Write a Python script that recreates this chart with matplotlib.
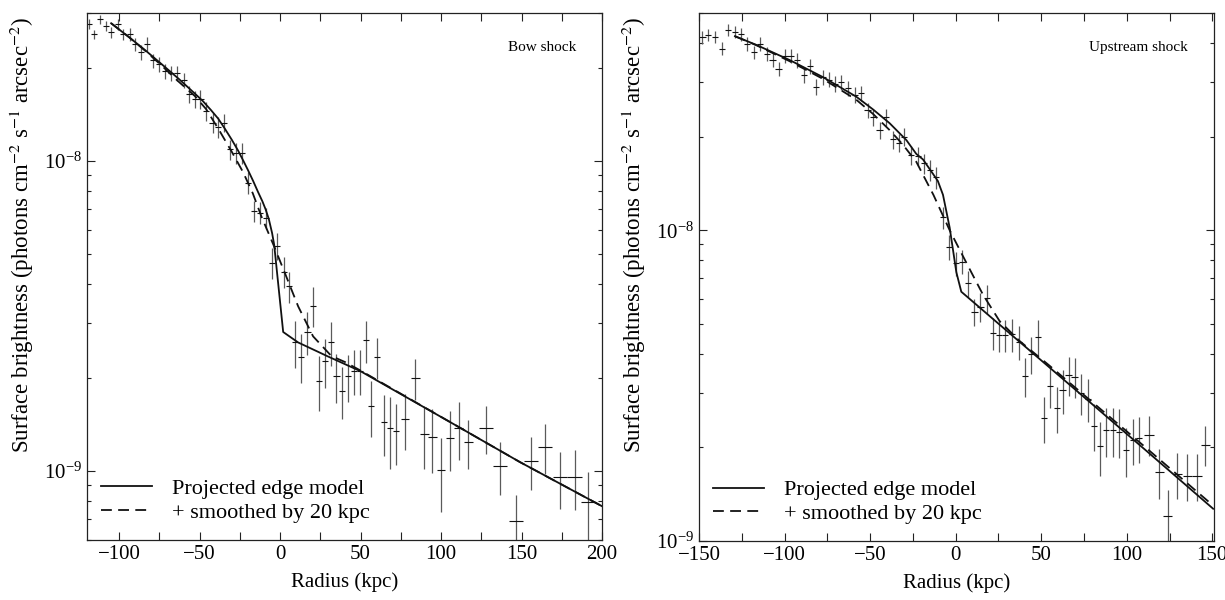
import numpy as np
import matplotlib
matplotlib.use("Agg")
import matplotlib.pyplot as plt
from matplotlib.ticker import MultipleLocator, LogLocator, NullFormatter

plt.rcParams['font.family'] = ['Liberation Serif', 'DejaVu Serif']
plt.rcParams['mathtext.fontset'] = 'stix'

# ---- Bow shock (surface brightness in 1e-9 photons cm^-2 s^-1 arcsec^-2) ----
bow_r = [-119, -115.5, -112, -108, -105, -101, -97.5, -93.5, -90, -86.5,
         -82.5, -79, -75, -71.5, -68, -64, -60, -56.5, -53, -49.5,
         -46, -42, -38.5, -35, -31, -27.5, -24, -20, -16, -12.5,
         -9, -5, -2, 2.5, 5.5, 9.5, 13, 17, 20.5, 24,
         28, 31.5, 35, 38.5, 42, 46, 49.5, 53.5, 56.5, 60,
         64.5, 68.5, 72, 77.5, 84, 89.5, 94.5, 100, 105.5, 111,
         117, 128, 136.5, 146.5, 156, 164.5, 174, 183, 191.5]
bow_sb = [27.6, 25.6, 28.6, 27.2, 26.0, 27.6, 25.6, 25.6, 23.8, 22.4,
          23.9, 21.1, 20.5, 19.5, 19.2, 19.2, 18.2, 16.4, 15.8, 15.8,
          14.5, 13.3, 12.9, 13.3, 10.9, 10.6, 10.6, 8.5, 6.9, 6.8,
          6.55, 4.7, 5.33, 4.4, 3.94, 2.6, 2.34, 2.82, 3.42, 1.96,
          2.26, 2.60, 2.02, 1.82, 2.02, 2.11, 2.11, 2.64, 1.62, 2.33,
          1.44, 1.38, 1.35, 1.47, 2.0, 1.32, 1.29, 1.01, 1.28, 1.38,
          1.24, 1.38, 1.04, 0.69, 1.08, 1.20, 0.957, 0.957, 0.795]
bow_sberr = [1.0, 0.9, 0.9, 1.0, 1.0, 1.1, 1.1, 1.2, 1.2, 1.2,
             1.2, 1.1, 1.1, 1.1, 1.1, 1.1, 1.0, 1.0, 1.0, 1.1,
             1.0, 1.0, 1.0, 0.9, 0.8, 0.8, 0.8, 0.7, 0.55, 0.55,
             0.5, 0.55, 0.55, 0.5, 0.45, 0.45, 0.42, 0.45, 0.5, 0.4,
             0.4, 0.42, 0.36, 0.35, 0.35, 0.35, 0.35, 0.4, 0.33, 0.35,
             0.32, 0.36, 0.3, 0.3, 0.3, 0.3, 0.3, 0.27, 0.28, 0.29,
             0.22, 0.24, 0.2, 0.15, 0.21, 0.22, 0.2, 0.21, 0.2]
bow_rerr = [1.9] * 53 + [2.7] * 8 + [4.5] * 8

bow_model_r = [-105, -94, -84, -74, -63, -53, -48, -43, -38.5, -34.3,
               -30, -26.1, -23, -19.9, -16.8, -13.7, -11, -9, -7, -5,
               -3.7, 1.9, 11.2, 30, 50, 105.6, 149, 200]
bow_model = [27.8, 25.1, 22.8, 20.6, 18.4, 16.5, 15.6, 14.6, 13.7, 12.7,
             11.7, 10.8, 10.05, 9.33, 8.63, 7.94, 7.41, 6.98, 6.49, 5.86,
             5.37, 2.81, 2.60, 2.34, 2.10, 1.44, 1.07, 0.771]
bow_smooth_r = [-105, -94, -84, -74, -64, -53, -46, -38, -30, -23,
                -17, -11.6, -3.7, 2.9, 11.2, 20.5, 31.9, 40.2, 50, 60,
                105.6, 149, 200]
bow_smooth = [27.8, 25.1, 22.7, 20.4, 18.2, 16.2, 14.7, 12.6, 10.7, 9.2,
              7.87, 6.62, 5.30, 4.36, 3.40, 2.72, 2.35, 2.25, 2.11, 1.97,
              1.44, 1.07, 0.771]

# ---- Upstream shock ----
up_r = [-148, -144.5, -140.5, -136.5, -133, -129, -125.5, -122, -118, -114.5,
        -110.5, -107, -103.5, -100, -96.5, -92.5, -88.5, -85, -81.5, -77.5,
        -74, -70.5, -67, -63, -59, -55.5, -51.5, -48.5, -44.5, -40.5,
        -36.5, -33, -30, -26, -22, -18.5, -15, -11.5, -7.5, -4,
        0, 3.5, 7, 11, 14.5, 18.5, 22, 25.5, 29, 33,
        37, 40.5, 44, 48, 51.5, 55, 59, 62.5, 66, 69.5,
        73.5, 77.5, 81, 84.5, 88, 92, 95.5, 99.5, 103.5, 107,
        113, 119, 124, 129.5, 135.5, 141, 146]
up_sb = [41.7, 42.4, 41.9, 38.4, 44.2, 43.4, 42.7, 39.8, 37.4, 39.8,
         37.0, 35.4, 33.1, 36.3, 36.3, 35.2, 31.5, 33.7, 29.0, 31.1,
         30.5, 29.6, 30.0, 28.6, 27.2, 27.6, 24.3, 23.1, 21.0, 23.1,
         19.6, 19.1, 20.0, 17.4, 17.3, 16.4, 15.6, 14.8, 11.0, 8.84,
         7.82, 7.91, 6.74, 5.46, 5.67, 6.03, 4.68, 4.60, 4.60, 4.62,
         4.38, 3.39, 3.99, 4.54, 2.49, 3.15, 2.67, 3.06, 3.42, 3.38,
         3.00, 2.86, 2.35, 2.02, 2.27, 2.27, 2.25, 1.96, 2.11, 2.14,
         2.20, 1.67, 1.20, 1.64, 1.62, 1.62, 2.04]
up_sberr = [1.9, 1.9, 1.9, 1.8, 2.0, 2.0, 2.0, 2.0, 1.9, 2.0,
            1.9, 1.9, 1.8, 1.9, 1.9, 1.9, 1.7, 1.8, 1.7, 1.7,
            1.7, 1.7, 1.7, 1.6, 1.6, 1.6, 1.4, 1.4, 1.3, 1.4,
            1.3, 1.3, 1.3, 1.2, 1.2, 1.2, 1.2, 1.2, 0.9, 0.8,
            0.7, 0.7, 0.65, 0.55, 0.6, 0.65, 0.55, 0.55, 0.55, 0.55,
            0.55, 0.48, 0.55, 0.6, 0.42, 0.48, 0.45, 0.5, 0.5, 0.5,
            0.45, 0.45, 0.4, 0.4, 0.4, 0.4, 0.4, 0.35, 0.36, 0.36,
            0.32, 0.3, 0.26, 0.28, 0.28, 0.28, 0.3]
up_rerr = [1.8] * 70 + [2.7] * 7

up_model_r = [-129, -116.6, -97.1, -77.6, -58.1, -48.4, -38.6, -28.8, -23, -19.1,
              -13.3, -10.4, -7.4, -3.5, 0.4, 3.3, 30, 66.7, 111.5, 150.5]
up_model = [42.1, 39.5, 35.3, 31.1, 26.9, 24.5, 22.1, 19.5, 17.6, 16.9,
            15.2, 14.4, 13.0, 10.2, 7.33, 6.34, 4.74, 3.18, 1.95, 1.27]
up_smooth_r = [-129, -116.6, -97.1, -77.6, -58.1, -48.4, -38.6, -31, -23, -13,
               -3.5, 6.3, 16, 25.7, 37.4, 55, 111.5, 150.5]
up_smooth = [42.1, 39.4, 35.0, 30.7, 26.3, 23.7, 21.0, 18.9, 16.6, 13.0,
             10.0, 7.85, 6.2, 5.1, 4.4, 3.66, 1.99, 1.30]

panels = [
    (bow_r, bow_sb, bow_sberr, bow_rerr, bow_model_r, bow_model, bow_smooth_r, bow_smooth,
     "Bow shock", (-120, 200), (6.0e-10, 3.0e-8), [-100, -50, 0, 50, 100, 150, 200]),
    (up_r, up_sb, up_sberr, up_rerr, up_model_r, up_model, up_smooth_r, up_smooth,
     "Upstream shock", (-150, 151), (1.0e-9, 5.0e-8), [-150, -100, -50, 0, 50, 100, 150]),
]

fig = plt.figure(figsize=(12.25, 6), dpi=100)
boxes = [[87 / 1225, 60 / 600, 515 / 1225, 527 / 600],
         [699 / 1225, 59 / 600, 515 / 1225, 528 / 600]]

for box, p in zip(boxes, panels):
    r, sb, sberr, rerr, mr, m, sr, s, title, xlim, ylim, xt = p
    ax = fig.add_axes(box)
    sb = np.array(sb) * 1e-9
    sberr = np.array(sberr) * 1e-9
    ax.errorbar(r, sb, yerr=sberr, fmt='none', ecolor='#5a5a5a', elinewidth=0.9, capsize=0)
    ax.errorbar(r, sb, xerr=rerr, fmt='none', ecolor='#111111', elinewidth=0.8, capsize=0)
    ax.plot(mr, np.array(m) * 1e-9, color='#111111', lw=1.3, label="Projected edge model")
    ax.plot(sr, np.array(s) * 1e-9, color='#111111', lw=1.3, ls=(0, (6, 3.5)),
            label="+ smoothed by 20 kpc")
    ax.set_yscale('log')
    ax.set_xlim(*xlim)
    ax.set_ylim(*ylim)
    ax.set_xticks(xt)
    ax.xaxis.set_minor_locator(MultipleLocator(25))
    ax.yaxis.set_major_locator(LogLocator(base=10))
    ax.yaxis.set_minor_locator(LogLocator(base=10, subs=np.arange(2, 10)))
    ax.yaxis.set_minor_formatter(NullFormatter())
    ax.tick_params(which='both', direction='in', top=True, right=True, labelsize=15,
                   width=0.8, color='#222222')
    ax.tick_params(axis='x', which='both', length=5.5)
    ax.tick_params(axis='y', which='major', length=5.8)
    ax.tick_params(axis='y', which='minor', length=3)
    for sp in ax.spines.values():
        sp.set_linewidth(0.9)
        sp.set_color('#222222')
    ax.set_xlabel("Radius (kpc)", fontsize=15, labelpad=6)
    ax.set_ylabel(r"Surface brightness (photons cm$^{\mathrm{-2}}$ s$^{\mathrm{-1}}$ arcsec$^{\mathrm{-2}}$)",
                  fontsize=16.5)
    ax.yaxis.set_label_coords(-0.099, 0.579)
    ax.text(0.95, 0.934, title, transform=ax.transAxes, ha='right', va='center', fontsize=11)
    ax.legend(loc='lower left', bbox_to_anchor=(-0.012, -0.006), frameon=False, fontsize=16,
              handlelength=2.3, handletextpad=0.9, labelspacing=0.15)

fig.savefig("out.png", dpi=100)
